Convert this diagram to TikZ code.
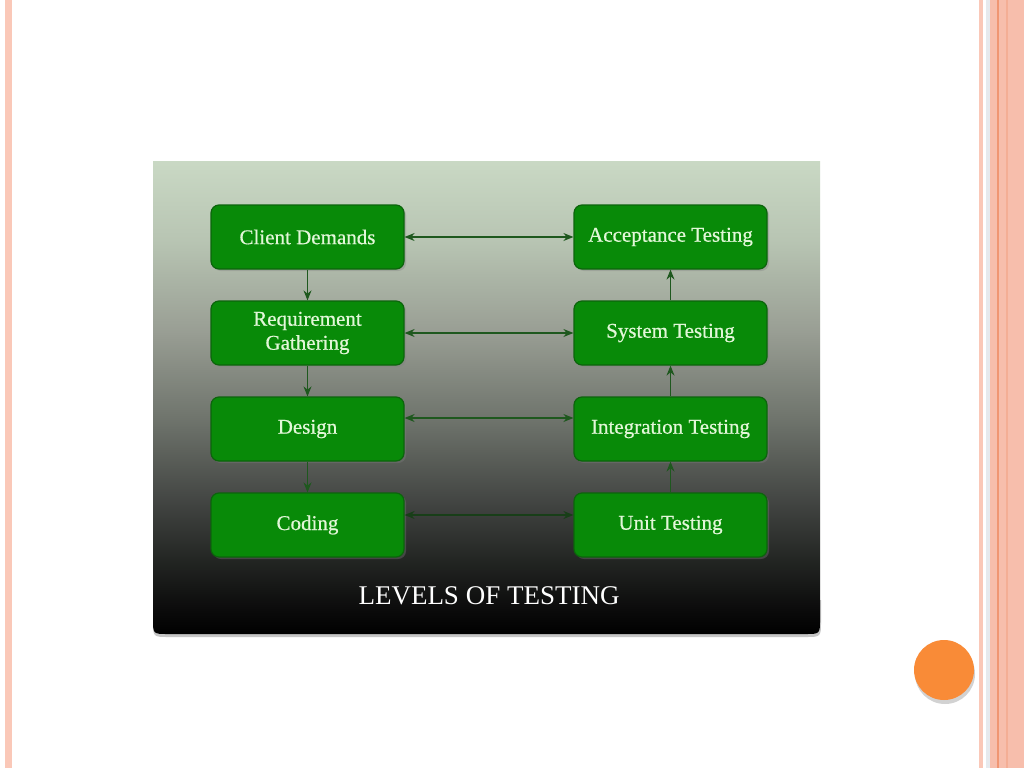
\documentclass[tikz,border=0pt]{standalone}
\usepackage{fontspec}
\setmainfont{Liberation Serif}
\newfontfamily\boxfont[FakeBold=0.6]{Liberation Serif}
\usetikzlibrary{arrows.meta,shadows}
\definecolor{boxgreen}{RGB}{8,138,8}
\definecolor{boxedge}{RGB}{12,100,12}
\definecolor{boxtext}{RGB}{226,247,216}
\definecolor{arrowgreen}{RGB}{30,88,30}
\definecolor{arrowdark}{RGB}{24,62,24}
\definecolor{salmon}{RGB}{247,190,172}
\definecolor{salmonlight}{RGB}{250,200,184}
\definecolor{salmonline}{RGB}{240,150,115}
\definecolor{stripewhite}{RGB}{230,234,238}
\definecolor{dotorange}{RGB}{249,139,55}
\pgfdeclareverticalshading{panelshade}{100bp}{%
  rgb(0bp)=(0,0,0); rgb(25bp)=(0,0,0); rgb(28bp)=(0.05,0.05,0.05);
  rgb(33bp)=(0.14,0.15,0.14); rgb(39bp)=(0.26,0.27,0.26);
  rgb(47.5bp)=(0.43,0.45,0.42); rgb(57bp)=(0.60,0.62,0.58);
  rgb(66.5bp)=(0.72,0.77,0.70); rgb(75bp)=(0.79,0.85,0.77);
  rgb(100bp)=(0.79,0.85,0.77)}
\tikzset{
  stagebox/.style={rounded corners=8pt, fill=boxgreen, draw=boxedge, line width=1.2pt,
    text=boxtext, minimum width=193pt, minimum height=64pt, align=center,
    font=\boxfont\fontsize{21}{24}\selectfont,
    drop shadow={opacity=0.35, shadow xshift=2pt, shadow yshift=-2pt}},
  flowarrow/.style={draw=arrowgreen, line width=1.4pt, -{Stealth[length=10pt,width=8pt]}},
  linkarrow/.style={draw=arrowgreen, line width=1.4pt, {Stealth[length=10pt,width=8pt]}-{Stealth[length=10pt,width=8pt]}},
  darklink/.style={draw=arrowdark, line width=1.4pt, {Stealth[length=10pt,width=8pt]}-{Stealth[length=10pt,width=8pt]}}
}
\begin{document}
\begin{tikzpicture}[x=1pt,y=-1pt]
\useasboundingbox (0,0) rectangle (1024,768);
\fill[white] (0,0) rectangle (1024,768);
% left stripe
\fill[salmonlight] (5,0) rectangle (12,768);
% right stripes
\fill[salmonlight] (979,0) rectangle (983,768);
\fill[white] (983,0) rectangle (986,768);
\fill[stripewhite] (986,0) rectangle (990,768);
\fill[salmon] (990,0) rectangle (1024,768);
\fill[salmonline] (997,0) rectangle (999,768);
\fill[salmonline!40!salmon] (1006,0) rectangle (1008,768);
% panel shadow (bottom only)
\fill[gray!45] (153,600) -- (821,600) -- (821,621) .. controls (821,637) .. (805,637) -- (169,637) .. controls (153,637) .. (153,621) -- cycle;
% panel
\shade[shading=panelshade] (153,161) -- (820,161) -- (820,619) .. controls (820,634) .. (805,634) -- (168,634) .. controls (153,634) .. (153,619) -- cycle;
% boxes
\node[stagebox] (cd)  at (307.5,237) {Client Demands};
\node[stagebox] (rg)  at (307.5,333) {Requirement\\Gathering};
\node[stagebox] (des) at (307.5,429) {Design};
\node[stagebox] (cod) at (307.5,525) {Coding};
\node[stagebox] (at)  at (670.5,237) {Acceptance Testing};
\node[stagebox] (st)  at (670.5,333) {System Testing};
\node[stagebox] (it)  at (670.5,429) {Integration Testing};
\node[stagebox] (ut)  at (670.5,525) {Unit Testing};
% vertical flow
\draw[flowarrow] (cd) -- (rg);
\draw[flowarrow] (rg) -- (des);
\draw[flowarrow] (des) -- (cod);
\draw[flowarrow] (ut) -- (it);
\draw[flowarrow] (it) -- (st);
\draw[flowarrow] (st) -- (at);
% horizontal links
\draw[linkarrow] (cd.east) -- (at.west);
\draw[linkarrow] (rg.east) -- (st.west);
\draw[linkarrow] ([yshift=11pt]des.east) -- ([yshift=11pt]it.west);
\draw[darklink] ([yshift=10pt]cod.east) -- ([yshift=10pt]ut.west);
% title
\node[text=white, font=\fontsize{27}{30}\selectfont] (title) at (489,596) {LEVELS OF TESTING};
% orange dot
\fill[gray!35] (945,674) circle (30);
\fill[dotorange] (944,670) circle (30);
\end{tikzpicture}
\end{document}
